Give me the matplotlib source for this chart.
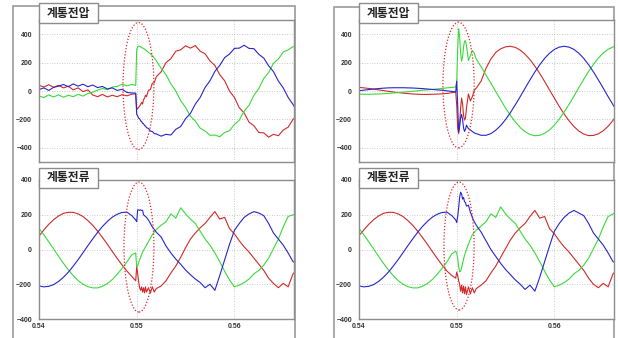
import numpy as np
import matplotlib
matplotlib.use('Agg')
import matplotlib.pyplot as plt
from matplotlib.patches import Ellipse, Rectangle

# sample times (s): pre-fault / around the fault / post-fault
t = [0.5400, 0.5405, 0.5410, 0.5415, 0.5420, 0.5425, 0.5430, 0.5435, 0.5440, 0.5445,
     0.5450, 0.5455, 0.5460, 0.5465, 0.5470, 0.5475, 0.5480, 0.5485, 0.5490, 0.5495,
     0.5499, 0.5500, 0.5501, 0.5502, 0.5503, 0.5504, 0.5505, 0.5506, 0.5507, 0.5508,
     0.5509, 0.5510, 0.5512, 0.5514, 0.5516, 0.5518, 0.5520, 0.5525,
     0.5530, 0.5535, 0.5540, 0.5545, 0.5550, 0.5555, 0.5560, 0.5565, 0.5570, 0.5575,
     0.5580, 0.5585, 0.5590, 0.5595, 0.5600, 0.5605, 0.5610, 0.5615, 0.5620, 0.5625,
     0.5630, 0.5635, 0.5640, 0.5645, 0.5650, 0.5655, 0.5660, 0.5662]

# left chart, grid voltage
lv_red = [40, 28, 44, 26, 40, 22, 34, 8, 22, -4, 8, -28, -40, -24, -42, -30, -40, -26, -34, -22,
          -20, -130, -124, -115, -106, -95, -80, -92, -60, -52, -30, -40, 5, 10, 55, 58, 100, 135,
          200, 228, 280, 290, 318, 302, 320, 280, 262, 212, 180, 115, 72, 0, -45, -118, -155, -220,
          -245, -292, -295, -325, -305, -315, -275, -255, -200, -188]
lv_green = [-35, -46, -28, -42, -27, -44, -30, -40, -24, -36, -18, -8, 6, 18, 10, 28, 32, 48, 36, 46,
            40, 290, 312, 316, 314, 312, 306, 303, 299, 295, 290, 283, 272, 262, 248, 232, 213, 160,
            115, 50, 0, -68, -115, -178, -212, -262, -282, -312, -310, -322, -292, -280, -235, -205,
            -142, -100, -30, 18, 88, 130, 195, 225, 275, 290, 312, 308]
lv_blue = [10, 22, 4, 26, 34, 46, 30, 50, 34, 48, 30, 42, 24, 32, 14, 22, 4, 12, -10, -14,
           -15, -165, -175, -192, -195, -210, -214, -228, -230, -244, -246, -258, -264, -282, -285,
           -300, -302, -318,
           -305, -310, -270, -250, -195, -158, -92, -45, 25, 72, 138, 180, 235, 260, 300, 302, 322,
           300, 298, 258, 232, 178, 136, 70, 22, -45, -95, -118]

# left chart, grid current
li_red = [77, 113, 145, 172, 193, 208, 214, 214, 205, 190, 167, 139, 106, 69, 30, -11, -51, -89, -124, -155,
          -180, -95, -140, -185, -220, -235, -215, -245, -220, -250, -215, -245, -220, -250, -215, -245,
          -225, -210,
          -180, -135, -95, -45, 10, 60, 95, 125, 150, 185, 218, 175, 185, 120, 90, 50, 15, -15, -50, -85,
          -120, -165, -195, -220, -195, -215, -140, -130]
li_green = [121, 84, 44, 3, -39, -79, -117, -150, -178, -200, -214, -221, -221, -212, -196, -173, -143,
            -109, -71, -30,
            -20, -100, -95, -75, -60, -45, -30, -15, -5, 5, 15, 25, 45, 65, 85, 100, 115, 140,
            160, 205, 180, 240, 205, 175, 150, 105, 60, 25, -20, -70, -125, -175, -215, -205, -190,
            -170, -140, -120, -90, -50, 5, 60, 130, 190, 200, 200]
li_blue = [-210, -215, -212, -202, -184, -160, -131, -96, -59, -19, 22, 61, 99, 133, 162, 186, 203, 213,
           215, 195,
           170, 160, 228, 228, 226, 228, 225, 226, 200, 195, 190, 185, 170, 150, 130, 115, 100, 72,
           20, -20, -55, -85, -118, -145, -170, -190, -220, -200, -235, -150, -60, 30, 110, 150, 185,
           205, 218, 210, 195, 150, 95, 60, 25, -20, -70, -75]

# right chart, grid voltage
rv_red = [26, 22, 18, 13, 8, 3, -2, -7, -11, -15, -18, -21, -23, -24, -24, -23, -22, -20, -17, -12,
          -8, -100, -260, -300, -230, -120, -50, -90, -170, -205, -190, -120, -20, -70, -40, 5, 20, 70,
          160, 225, 272, 297, 311, 315, 307, 288, 259, 221, 175, 123, 67, 8, -51, -109, -162, -210,
          -250, -282, -303, -314, -313, -302, -280, -248, -207, -188]
rv_green = [-22, -23, -23, -22, -21, -19, -17, -14, -11, -8, -5, -2, 2, 5, 8, 11, 15, 18, 22, 25,
            28, 60, 300, 440, 380, 270, 210, 240, 310, 350, 355, 320, 215, 250, 285, 265, 225, 170,
            112, 55, -4, -63, -120, -172, -218, -257, -287, -306, -315, -312, -298, -274, -240, -198,
            -148, -94, -36, 24, 82, 138, 188, 232, 268, 294, 310, 313]
rv_blue = [2, 6, 10, 14, 17, 20, 22, 23, 23, 23, 22, 21, 19, 17, 14, 11, 8, 5, 1, -3,
           -6, 70, -100, -290, -250, -190, -165, -200, -260, -285, -270, -240, -265, -275, -285, -295,
           -300, -312,
           -312, -300, -276, -243, -201, -152, -97, -40, 20, 78, 134, 185, 230, 266, 293, 309, 315,
           309, 293, 266, 230, 185, 134, 78, 20, -40, -97, -119]

# right chart, grid current
ri_red = [80, 113, 145, 172, 193, 208, 214, 214, 205, 190, 167, 139, 106, 69, 30, -11, -51, -89, -124, -150,
          -165, -130, -150, -180, -200, -240, -205, -250, -210, -255, -215, -260, -215, -255, -220, -250,
          -225, -205,
          -180, -135, -95, -45, 5, 55, 95, 125, 150, 190, 225, 180, 190, 120, 90, 50, 15, -15, -50, -85,
          -120, -165, -200, -220, -195, -215, -140, -130]
ri_green = [121, 84, 44, 3, -39, -79, -117, -150, -178, -200, -214, -221, -221, -212, -196, -173, -143,
            -109, -71, -25,
            -10, -20, -50, -100, -128, -125, -105, -80, -55, -35, -15, 0, 30, 60, 85, 100, 110, 135,
            160, 205, 185, 245, 205, 175, 150, 105, 60, 25, -20, -70, -125, -175, -215, -205, -190,
            -170, -140, -120, -90, -50, 5, 60, 130, 190, 205, 210]
ri_blue = [-210, -215, -212, -202, -184, -160, -131, -96, -59, -19, 22, 61, 99, 133, 162, 186, 203, 213,
           215, 195,
           170, 155, 190, 240, 300, 330, 320, 290, 300, 275, 270, 250, 255, 215, 185, 160, 140, 100,
           50, 0, -40, -80, -115, -145, -175, -200, -230, -205, -240, -160, -70, 20, 105, 150, 185,
           210, 225, 210, 195, 150, 95, 60, 25, -20, -70, -75]

titles = ['계통전압', '계통전류']
yticks = [-400, -200, 0, 200, 400]
xticks = [0.54, 0.55, 0.56]
xticklabels = ['0.54', '0.55', '0.56']
# fault region markers: centre t, centre value, width, height
ell_v = [(0.55018, 35, 0.00316, 895), (0.55019, 42, 0.0032, 885)]
ell_i = [(0.55023, 14, 0.00306, 748), (0.55024, 20, 0.00309, 736)]

RED, GREEN, BLUE = '#d02a2a', '#3ada3a', '#2626cc'
W, H = 618, 338
fig = plt.figure(figsize=(W/100, H/100), dpi=100)
fig.patch.set_facecolor('white')

def px_axes(x0, y0, x1, y1):
    return fig.add_axes([x0/W, 1-y1/H, (x1-x0)/W, (y1-y0)/H])

def style(ax, ylim, show_x):
    ax.set_xlim(0.54, 0.5661)
    ax.set_ylim(*ylim)
    ax.set_yticks(yticks)
    ax.set_xticks(xticks)
    ax.set_xticklabels(xticklabels if show_x else [])
    ax.grid(True, linestyle=(0, (1, 2)), color='#b8b8b8', lw=0.6)
    ax.set_axisbelow(True)
    ax.tick_params(length=0, labelsize=5, colors='#333333')
    ax.tick_params(axis='y', pad=5)
    ax.tick_params(axis='x', pad=3)
    for lab in ax.get_xticklabels() + ax.get_yticklabels():
        lab.set_fontweight('bold')
        lab.set_family('Liberation Sans')
    for s in ax.spines.values():
        s.set_color('#8c8c8c')
        s.set_linewidth(1.0)

# outer frames
for x0, x1, y0 in [(13, 295, 6), (334, 614, 7)]:
    fig.add_artist(Rectangle((x0/W, -0.02), (x1-x0)/W, 1.02-y0/H, transform=fig.transFigure,
                             fill=False, ec='#9a9a9a', lw=1.2, zorder=0))

panels = [
    (39, 294, lv_red, lv_green, lv_blue, li_red, li_green, li_blue, 0),
    (359, 614, rv_red, rv_green, rv_blue, ri_red, ri_green, ri_blue, 1),
]
for x0, x1, vr, vg, vb, ir, ig, ib, k in panels:
    axv = px_axes(x0, 20, x1, 162)
    axv.plot(t, vr, color=RED, lw=0.8)
    axv.plot(t, vg, color=GREEN, lw=0.8)
    axv.plot(t, vb, color=BLUE, lw=0.8)
    style(axv, (-500, 500), False)
    c = ell_v[k]
    axv.add_patch(Ellipse((c[0], c[1]), c[2], c[3], fill=False, ec='#e02828',
                          ls=(0, (1, 1.5)), lw=0.9, zorder=5))

    axi = px_axes(x0, 180, x1, 319)
    axi.plot(t, ir, color=RED, lw=0.8)
    axi.plot(t, ig, color=GREEN, lw=0.8)
    axi.plot(t, ib, color=BLUE, lw=0.8)
    style(axi, (-400, 400), True)
    c = ell_i[k]
    axi.add_patch(Ellipse((c[0], c[1]), c[2], c[3], fill=False, ec='#e02828',
                          ls=(0, (1, 1.5)), lw=0.9, zorder=5))

    # title boxes
    for (by0, by1), title in zip([(3, 23), (168, 188)], titles):
        bx0, bx1 = x0, x0 + 59
        fig.add_artist(Rectangle((bx0/W, 1-by1/H), (bx1-bx0)/W, (by1-by0)/H,
                                 transform=fig.transFigure, fc='white', ec='#8c8c8c',
                                 lw=1.0, zorder=10))
        fig.text((bx0+bx1)/2/W, 1-(by0+by1)/2/H, title, ha='center', va='center',
                 fontsize=8.5, fontweight='bold', color='#222222',
                 family=['Noto Sans CJK KR', 'DejaVu Sans'], zorder=11)

fig.savefig('out.png', dpi=100)
